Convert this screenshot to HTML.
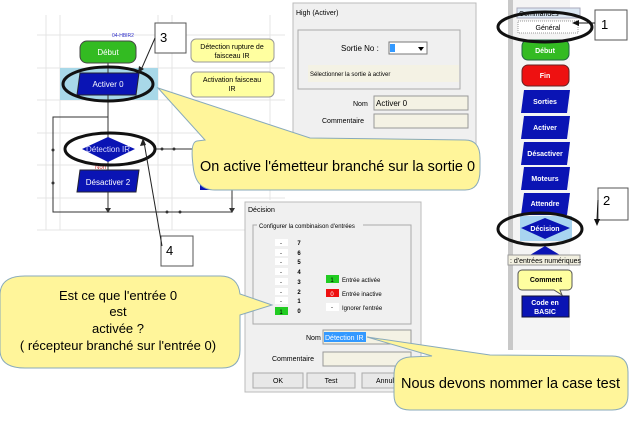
<!DOCTYPE html>
<html><head><meta charset="utf-8"><style>
html,body{margin:0;padding:0;background:#fff;width:630px;height:445px;overflow:hidden}
svg{display:block}
text{font-family:"Liberation Sans",sans-serif}
</style></head><body>
<svg width="630" height="445" viewBox="0 0 630 445" xmlns="http://www.w3.org/2000/svg">
<g stroke="#e4e4e4" stroke-width="1">
<line x1="37" y1="35" x2="285" y2="35"/><line x1="37" y1="68" x2="285" y2="68"/><line x1="37" y1="100" x2="285" y2="100"/><line x1="37" y1="133" x2="285" y2="133"/><line x1="37" y1="165" x2="285" y2="165"/><line x1="37" y1="198" x2="285" y2="198"/><line x1="37" y1="230" x2="250" y2="230"/>
<line x1="46" y1="15" x2="46" y2="230"/><line x1="60" y1="15" x2="60" y2="230"/><line x1="158" y1="15" x2="158" y2="230"/><line x1="172" y1="15" x2="172" y2="230"/><line x1="270" y1="15" x2="270" y2="200"/>
</g>
<rect x="60" y="68" width="98" height="32" fill="#a8d8e8"/>
<g stroke="#333" stroke-width="1" fill="none">
<line x1="108" y1="63" x2="108" y2="212"/>
<polyline points="108,117 53,117 53,212 232,212 232,149 155,149"/>
</g>
<g fill="#333"><circle cx="53" cy="150" r="1.5"/><circle cx="53" cy="183" r="1.5"/><circle cx="167" cy="212" r="1.5"/><circle cx="180" cy="212" r="1.5"/><circle cx="162" cy="149" r="1.5"/><circle cx="174" cy="149" r="1.5"/>
<polygon points="105,208 111,208 108,213"/><polygon points="229,208 235,208 232,213"/></g>
<text x="112" y="37" font-size="5" fill="#33c">04-HBIR2</text>
<rect x="80" y="41" width="56" height="22" rx="7" fill="#33bb22" stroke="#444"/>
<text x="108" y="55" font-size="8" fill="#fff" text-anchor="middle">Début</text>
<polygon points="80,73 139,73 136,95 77,95" fill="#0a14b4" stroke="#223"/>
<text x="108" y="87" font-size="8" fill="#fff" text-anchor="middle">Activer 0</text>
<polygon points="82,149 108,137 135,149 108,162" fill="#0a14b4"/>
<text x="108" y="152" font-size="8" fill="#ddf" text-anchor="middle">Détection IR</text>
<text x="95" y="169" font-size="6" fill="#c33">Non</text>
<polygon points="80,170 139,170 136,192 77,192" fill="#0a14b4" stroke="#223"/>
<text x="108" y="185" font-size="8" fill="#fff" text-anchor="middle">Désactiver 2</text>
<rect x="200" y="175" width="32" height="15" fill="#0a14b4"/>
<ellipse cx="108" cy="84" rx="45" ry="17" fill="none" stroke="#111" stroke-width="3"/>
<ellipse cx="110" cy="149" rx="45" ry="16" fill="none" stroke="#111" stroke-width="3"/>
<rect x="191" y="39" width="83" height="23" rx="5" fill="#ffffa0" stroke="#999"/>
<text x="232" y="49" font-size="7" text-anchor="middle">Détection rupture de</text><text x="232" y="58" font-size="7" text-anchor="middle">faisceau IR</text>
<rect x="191" y="72" width="83" height="25" rx="5" fill="#ffffa0" stroke="#999"/>
<text x="232" y="82" font-size="7" text-anchor="middle">Activation faisceau</text><text x="232" y="91" font-size="7" text-anchor="middle">IR</text>
<rect x="155" y="23" width="31" height="30" fill="#fff" stroke="#555"/>
<text x="160" y="42" font-size="13">3</text>
<line x1="155" y1="38" x2="141" y2="70" stroke="#222"/><polygon points="138,73 139,66 144,69" fill="#222"/>
<rect x="161" y="236" width="32" height="30" fill="#fff" stroke="#555"/>
<text x="166" y="255" font-size="13">4</text>
<line x1="162" y1="246" x2="144" y2="142" stroke="#222"/><polygon points="143,138 140,146 146,145" fill="#222"/>
<rect x="293" y="3" width="183" height="160" fill="#f0f0f0" stroke="#bbb"/>
<text x="296" y="15" font-size="7">High (Activer)</text>
<rect x="298" y="30" width="162" height="59" fill="#f0f0f0" stroke="#aaa"/>
<text x="341" y="51" font-size="8">Sortie No :</text>
<rect x="389" y="42" width="38" height="12" fill="#fff" stroke="#777"/><rect x="390" y="44" width="5" height="8" fill="#39f"/>
<polygon points="418,47 424,47 421,51" fill="#000"/>
<rect x="308" y="65" width="151" height="17" fill="#f4f2e4"/>
<text x="310" y="76" font-size="6">Sélectionner la sortie à activer</text>
<text x="353" y="106" font-size="7">Nom</text>
<rect x="374" y="96" width="94" height="14" fill="#f4f2e4" stroke="#999"/>
<text x="376" y="106" font-size="8">Activer 0</text>
<text x="322" y="123" font-size="7">Commentaire</text>
<rect x="374" y="114" width="94" height="14" fill="#f4f2e4" stroke="#999"/>
<path d="M158,88 L205,140 L197,141 Q190,142 193,165 Q195,190 215,190 L465,190 Q480,190 480,170 L480,158 Q480,140 465,140 L310,138 Z" fill="#fff59a" stroke="#8ab" stroke-width="1"/>
<text x="200" y="171" font-size="15" textLength="275" lengthAdjust="spacingAndGlyphs">On active l'émetteur branché sur la sortie 0</text>
<rect x="508" y="0" width="62" height="350" fill="#f4f4f4"/>
<rect x="508" y="0" width="5" height="350" fill="#c8c8c8"/>
<rect x="517" y="8" width="63" height="10" fill="#dce8f4" stroke="#aab"/>
<text x="519" y="16" font-size="7">Commandes</text>
<rect x="518" y="21" width="60" height="12" fill="#fff" stroke="#999" stroke-dasharray="1,1"/>
<text x="548" y="30" font-size="7" text-anchor="middle">Général</text>
<g font-size="7" font-weight="bold" fill="#fff" text-anchor="middle">
<rect x="522" y="40" width="47" height="20" rx="6" fill="#33bb22" stroke="#264"/><text x="545" y="53">Début</text>
<rect x="522" y="65" width="47" height="21" rx="6" fill="#ee1111" stroke="#622"/><text x="545" y="78" >Fin</text>
<polygon points="524,90 570,90 567,113 521,113" fill="#0a14b4"/><text x="545" y="104">Sorties</text>
<polygon points="524,116 570,116 567,139 521,139" fill="#0a14b4"/><text x="545" y="130">Activer</text>
<polygon points="524,142 570,142 567,165 521,165" fill="#0a14b4"/><text x="545" y="156">Désactiver</text>
<polygon points="524,167 570,167 567,190 521,190" fill="#0a14b4"/><text x="545" y="181">Moteurs</text>
<polygon points="524,193 570,193 567,215 521,215" fill="#0a14b4"/><text x="545" y="206">Attendre</text>
<rect x="520" y="216" width="52" height="25" fill="#a8d4f0"/>
<polygon points="521,228 545,218 570,228 545,239" fill="#0a14b4"/><text x="545" y="231">Décision</text>
<polygon points="530,255 545,246 560,255" fill="#0a14b4"/>
<path d="M522,270 h46 a4,4 0 0 1 4,4 v12 a4,4 0 0 1 -4,4 h-8 l2,5 -8,-5 h-32 a4,4 0 0 1 -4,-4 v-12 a4,4 0 0 1 4,-4z" fill="#ffffa0" stroke="#555"/>
<text x="546" y="282" fill="#000">Comment</text>
<rect x="522" y="296" width="47" height="21" fill="#0a14b4" stroke="#113"/><text x="545" y="305">Code en</text><text x="545" y="314">BASIC</text>
</g>
<rect x="508" y="255" width="72" height="10" fill="#f2f0e0" stroke="#999"/>
<text x="510" y="263" font-size="7">: d'entrées numériques</text>
<ellipse cx="545" cy="27" rx="47" ry="15" fill="none" stroke="#111" stroke-width="3"/>
<ellipse cx="540" cy="229" rx="42" ry="16" fill="none" stroke="#111" stroke-width="3"/>
<rect x="595" y="10" width="32" height="30" fill="#fff" stroke="#555"/><text x="601" y="29" font-size="13">1</text>
<line x1="595" y1="23" x2="578" y2="23" stroke="#111"/><polygon points="572,23 579,20 579,26" fill="#111"/>
<rect x="598" y="188" width="30" height="32" fill="#fff" stroke="#555"/><text x="603" y="205" font-size="13">2</text>
<line x1="598" y1="200" x2="597" y2="220" stroke="#111"/><polygon points="597,226 594,219 600,219" fill="#111"/>
<rect x="245" y="202" width="176" height="190" fill="#f0f0f0" stroke="#bbb"/>
<text x="248" y="212" font-size="7">Décision</text>
<rect x="253" y="225" width="158" height="99" fill="none" stroke="#aaa"/>
<rect x="257" y="221" width="106" height="7" fill="#f0f0f0"/>
<text x="259" y="228" font-size="6">Configurer la combinaison d'entrées</text>
<g font-size="6" text-anchor="middle">
<rect x="275" y="239" width="13" height="7" fill="#fff"/><text x="281" y="245">-</text><text x="299" y="245" font-weight="bold">7</text>
<rect x="275" y="249" width="13" height="7" fill="#fff"/><text x="281" y="255">-</text><text x="299" y="255" font-weight="bold">6</text>
<rect x="275" y="258" width="13" height="7" fill="#fff"/><text x="281" y="264">-</text><text x="299" y="264" font-weight="bold">5</text>
<rect x="275" y="268" width="13" height="7" fill="#fff"/><text x="281" y="274">-</text><text x="299" y="274" font-weight="bold">4</text>
<rect x="275" y="278" width="13" height="7" fill="#fff"/><text x="281" y="284">-</text><text x="299" y="284" font-weight="bold">3</text>
<rect x="275" y="288" width="13" height="7" fill="#fff"/><text x="281" y="294">-</text><text x="299" y="294" font-weight="bold">2</text>
<rect x="275" y="297" width="13" height="7" fill="#fff"/><text x="281" y="303">-</text><text x="299" y="303" font-weight="bold">1</text>
<rect x="275" y="307" width="13" height="8" fill="#22cc22"/><text x="281" y="314">1</text><text x="299" y="313" font-weight="bold">0</text>
<rect x="326" y="275" width="13" height="8" fill="#22cc22"/><text x="332" y="282">1</text>
<rect x="326" y="289" width="13" height="8" fill="#ee1111"/><text x="332" y="296" fill="#fff">0</text>
<rect x="326" y="303" width="13" height="8" fill="#fff"/><text x="332" y="309">-</text>
</g>
<text x="342" y="282" font-size="6">Entrée activée</text>
<text x="342" y="296" font-size="6">Entrée inactive</text>
<text x="342" y="310" font-size="6">Ignorer l'entrée</text>
<text x="306" y="340" font-size="7">Nom</text>
<rect x="323" y="330" width="88" height="14" fill="#f4f2e4" stroke="#999"/>
<rect x="324" y="332" width="42" height="10" fill="#3399ff"/>
<text x="325" y="340" font-size="7" fill="#fff">Détection IR</text>
<text x="272" y="361" font-size="7">Commentaire</text>
<rect x="323" y="352" width="88" height="14" fill="#f4f2e4" stroke="#999"/>
<rect x="253" y="373" width="50" height="15" fill="#e8e8e8" stroke="#aaa"/><text x="278" y="383" font-size="7" text-anchor="middle">OK</text>
<rect x="307" y="373" width="48" height="15" fill="#e8e8e8" stroke="#aaa"/><text x="331" y="383" font-size="7" text-anchor="middle">Test</text>
<rect x="362" y="373" width="50" height="15" fill="#e8e8e8" stroke="#aaa"/><text x="376" y="383" font-size="7">Annuler</text>
<path d="M367,337 L432,356 L410,357 Q394,358 394,375 L394,395 Q394,410 410,410 L612,410 Q628,410 628,395 L628,372 Q628,356 612,356 L490,355 Z" fill="#fff59a" stroke="#8ab"/>
<text x="401" y="388" font-size="14.5" textLength="219" lengthAdjust="spacingAndGlyphs">Nous devons nommer la case test</text>
<path d="M272,305 L240,294 Q238,276 220,276 L25,276 Q0,276 0,295 L0,350 Q0,368 25,368 L222,368 Q240,368 240,350 L240,315 Z" fill="#fff59a" stroke="#8ab"/>
<g font-size="13" text-anchor="middle"><text x="118" y="300">Est ce que l'entrée 0</text><text x="118" y="316">est</text><text x="118" y="333">activée ?</text><text x="118" y="350">( récepteur branché sur l'entrée 0)</text></g>
</svg>
</body></html>
